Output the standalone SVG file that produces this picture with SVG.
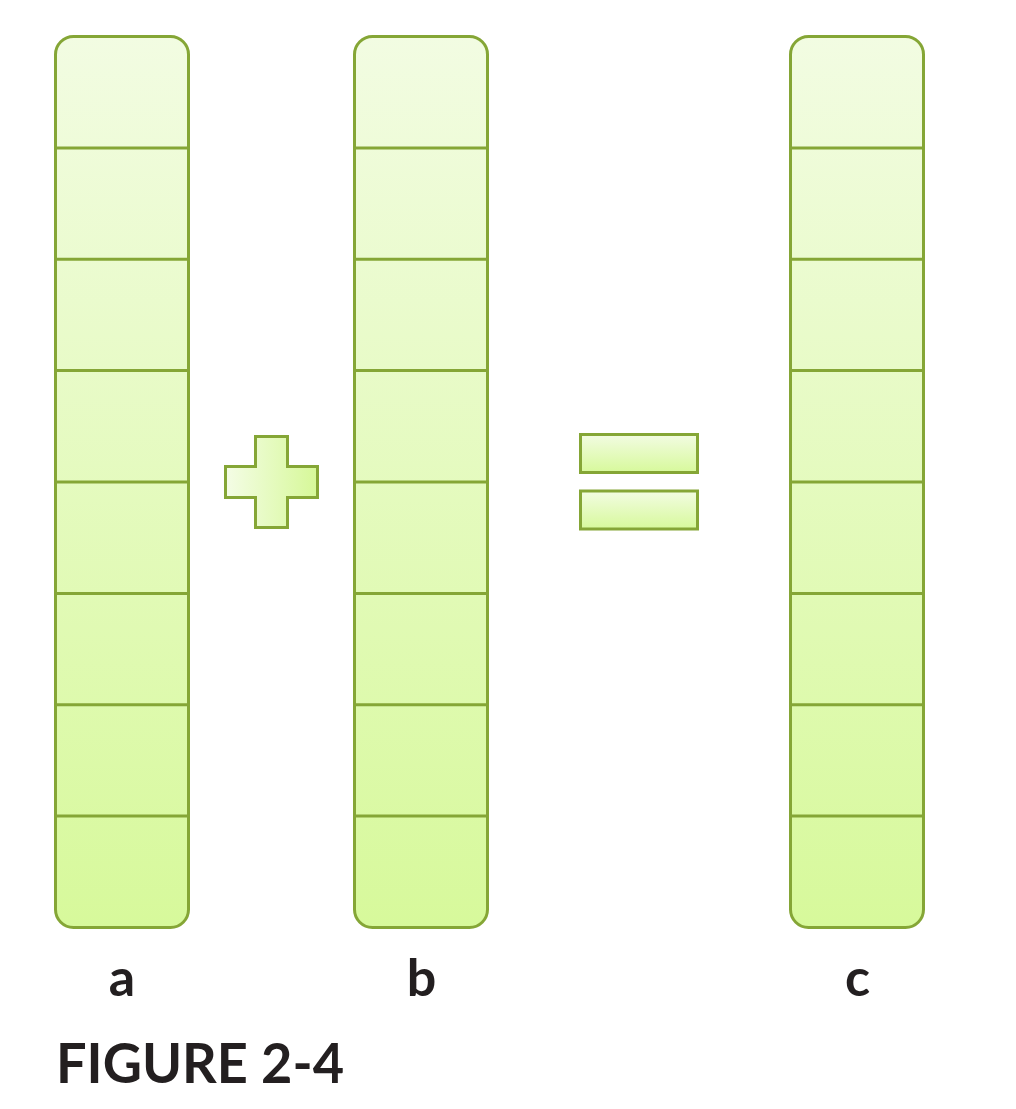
<svg xmlns="http://www.w3.org/2000/svg" width="1016" height="1109" viewBox="0 0 1016 1109">
<defs>
<linearGradient id="gv" x1="0" y1="0" x2="0" y2="1">
<stop offset="0" stop-color="#f2fce2"/>
<stop offset="1" stop-color="#d7f99b"/>
</linearGradient>
<linearGradient id="gh" x1="0" y1="0" x2="1" y2="0">
<stop offset="0" stop-color="#f4fde6"/>
<stop offset="1" stop-color="#d6f898"/>
</linearGradient>
<style>
.col{fill:url(#gv);stroke:#85a636;stroke-width:3}
.div{stroke:#85a636;stroke-width:3;fill:none}
.op{stroke:#85a636;stroke-width:3}
.lbl{font-family:Lato,"Liberation Sans",sans-serif;font-weight:700;font-size:52px;fill:#231f20;text-anchor:middle}
.cap{font-family:Lato,"Liberation Sans",sans-serif;font-weight:700;font-size:55px;fill:#231f20}
</style>
</defs>
<g id="col-a">
<rect class="col" x="55.5" y="36.5" width="133" height="891" rx="18"/>
<path class="div" d="M55.5 147.9H188.5M55.5 259.2H188.5M55.5 370.6H188.5M55.5 482H188.5M55.5 593.4H188.5M55.5 704.8H188.5M55.5 816.1H188.5"/>
<text class="lbl" x="122" y="996">a</text>
</g>
<g id="col-b">
<rect class="col" x="354.5" y="36.5" width="133" height="891" rx="18"/>
<path class="div" d="M354.5 147.9H487.5M354.5 259.2H487.5M354.5 370.6H487.5M354.5 482H487.5M354.5 593.4H487.5M354.5 704.8H487.5M354.5 816.1H487.5"/>
<text class="lbl" x="421.5" y="996">b</text>
</g>
<g id="col-c">
<rect class="col" x="790.5" y="36.5" width="133" height="891" rx="18"/>
<path class="div" d="M790.5 147.9H923.5M790.5 259.2H923.5M790.5 370.6H923.5M790.5 482H923.5M790.5 593.4H923.5M790.5 704.8H923.5M790.5 816.1H923.5"/>
<text class="lbl" x="857.5" y="996">c</text>
</g>
<g id="plus">
<path class="op" fill="url(#gh)" d="M255.5 436.5H287.5V466.5H317.5V497.5H287.5V527.5H255.5V497.5H225.5V466.5H255.5Z"/>
</g>
<g id="equals">
<rect class="op" fill="url(#gv)" x="580.5" y="434.5" width="117" height="38"/>
<rect class="op" fill="url(#gv)" x="580.5" y="491" width="117" height="38"/>
</g>
<g id="connectors"/>
<text id="caption" class="cap" x="56" y="1083" textLength="288" lengthAdjust="spacingAndGlyphs">FIGURE 2-4</text>
</svg>
